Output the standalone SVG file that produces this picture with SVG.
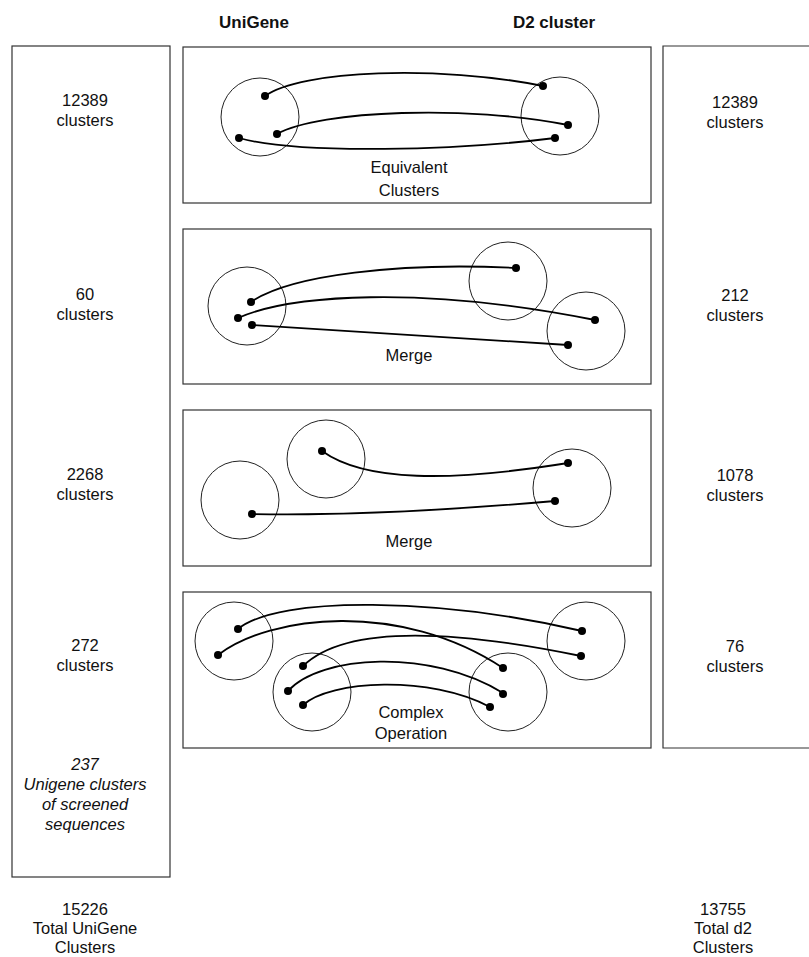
<svg xmlns="http://www.w3.org/2000/svg" width="809" height="957" viewBox="0 0 809 957">
<style>
.box{fill:none;stroke:#333;stroke-width:1.2}
.cl{fill:none;stroke:#222;stroke-width:1}
.ln{fill:none;stroke:#000;stroke-width:1.8;stroke-linecap:round}
.dot{fill:#000}
text{font-family:"Liberation Sans",Arial,sans-serif;font-size:16.5px;fill:#111;text-anchor:middle}
.hd{font-weight:bold;font-size:17px}
.it{font-style:italic}
</style>
<rect width="809" height="957" fill="#fff"/>
<g id="headers">
<text class="hd" x="254" y="28">UniGene</text>
<text class="hd" x="554" y="28">D2 cluster</text>
</g>
<g id="left-column">
<rect class="box" x="12" y="46" width="158" height="831"/>
<text x="85" y="106">12389</text><text x="85" y="126">clusters</text>
<text x="85" y="300">60</text><text x="85" y="320">clusters</text>
<text x="85" y="480">2268</text><text x="85" y="500">clusters</text>
<text x="85" y="651">272</text><text x="85" y="671">clusters</text>
<text class="it" x="85" y="770">237</text>
<text class="it" x="85" y="790">Unigene clusters</text>
<text class="it" x="85" y="810">of screened</text>
<text class="it" x="85" y="830">sequences</text>
<text x="85" y="915">15226</text><text x="85" y="934">Total UniGene</text><text x="85" y="953">Clusters</text>
</g>
<g id="right-column">
<path class="box" d="M812,46 L663,46 L663,748 L812,748"/>
<text x="735" y="108">12389</text><text x="735" y="128">clusters</text>
<text x="735" y="301">212</text><text x="735" y="321">clusters</text>
<text x="735" y="481">1078</text><text x="735" y="501">clusters</text>
<text x="735" y="652">76</text><text x="735" y="672">clusters</text>
<text x="723" y="915">13755</text><text x="723" y="934">Total d2</text><text x="723" y="953">Clusters</text>
</g>
<g id="panel-equivalent">
<rect class="box" x="183" y="47" width="468" height="156"/>
<circle class="cl" cx="260" cy="117" r="39"/>
<circle class="cl" cx="560" cy="116" r="39"/>
<text x="409" y="173">Equivalent</text><text x="409" y="196">Clusters</text>
</g>
<g id="panel-merge1">
<rect class="box" x="183" y="229" width="468" height="155"/>
<circle class="cl" cx="247" cy="306" r="39"/>
<circle class="cl" cx="508" cy="281" r="39"/>
<circle class="cl" cx="586" cy="331" r="39"/>
<text x="409" y="361">Merge</text>
</g>
<g id="panel-merge2">
<rect class="box" x="183" y="410" width="468" height="156"/>
<circle class="cl" cx="240" cy="500" r="39"/>
<circle class="cl" cx="326" cy="459" r="39"/>
<circle class="cl" cx="572" cy="488" r="39"/>
<text x="409" y="547">Merge</text>
</g>
<g id="panel-complex">
<rect class="box" x="183" y="592" width="468" height="156"/>
<circle class="cl" cx="234" cy="641" r="39"/>
<circle class="cl" cx="312" cy="692" r="39"/>
<circle class="cl" cx="508" cy="692" r="39"/>
<circle class="cl" cx="586" cy="641" r="39"/>
<text x="411" y="718">Complex</text><text x="411" y="739">Operation</text>
</g>
<g id="connectors">
<path class="ln" d="M265,96 C300,70 440,65 543,86"/>
<path class="ln" d="M277,134 C320,110 470,105 568,125"/>
<path class="ln" d="M239,138 C300,155 460,150 555,138"/>
<path class="ln" d="M251,302 C290,275 400,262 516,268"/>
<path class="ln" d="M238,318 C290,295 420,285 595,320"/>
<path class="ln" d="M252,325 L568,345"/>
<path class="ln" d="M322,451 C365,482 450,482 568,463"/>
<path class="ln" d="M252,514 C350,516 450,510 555,501"/>
<path class="ln" d="M238,629 C280,595 440,598 582,631"/>
<path class="ln" d="M218,655 C270,615 400,600 503,668"/>
<path class="ln" d="M303,666 C340,630 430,625 581,656"/>
<path class="ln" d="M288,691 C320,655 430,648 503,693"/>
<path class="ln" d="M303,705 C330,680 430,675 490,707"/>
</g>
<g id="dots">
<circle class="dot" cx="265" cy="96" r="4"/><circle class="dot" cx="543" cy="86" r="4"/>
<circle class="dot" cx="277" cy="134" r="4"/><circle class="dot" cx="568" cy="125" r="4"/>
<circle class="dot" cx="239" cy="138" r="4"/><circle class="dot" cx="555" cy="138" r="4"/>
<circle class="dot" cx="251" cy="302" r="4"/><circle class="dot" cx="516" cy="268" r="4"/>
<circle class="dot" cx="238" cy="318" r="4"/><circle class="dot" cx="595" cy="320" r="4"/>
<circle class="dot" cx="252" cy="325" r="4"/><circle class="dot" cx="568" cy="345" r="4"/>
<circle class="dot" cx="322" cy="451" r="4"/><circle class="dot" cx="568" cy="463" r="4"/>
<circle class="dot" cx="252" cy="514" r="4"/><circle class="dot" cx="555" cy="501" r="4"/>
<circle class="dot" cx="238" cy="629" r="4"/><circle class="dot" cx="218" cy="655" r="4"/>
<circle class="dot" cx="303" cy="666" r="4"/><circle class="dot" cx="288" cy="691" r="4"/>
<circle class="dot" cx="303" cy="705" r="4"/><circle class="dot" cx="582" cy="631" r="4"/>
<circle class="dot" cx="581" cy="656" r="4"/><circle class="dot" cx="503" cy="668" r="4"/>
<circle class="dot" cx="503" cy="694" r="4"/><circle class="dot" cx="490" cy="707" r="4"/>
</g>
</svg>
